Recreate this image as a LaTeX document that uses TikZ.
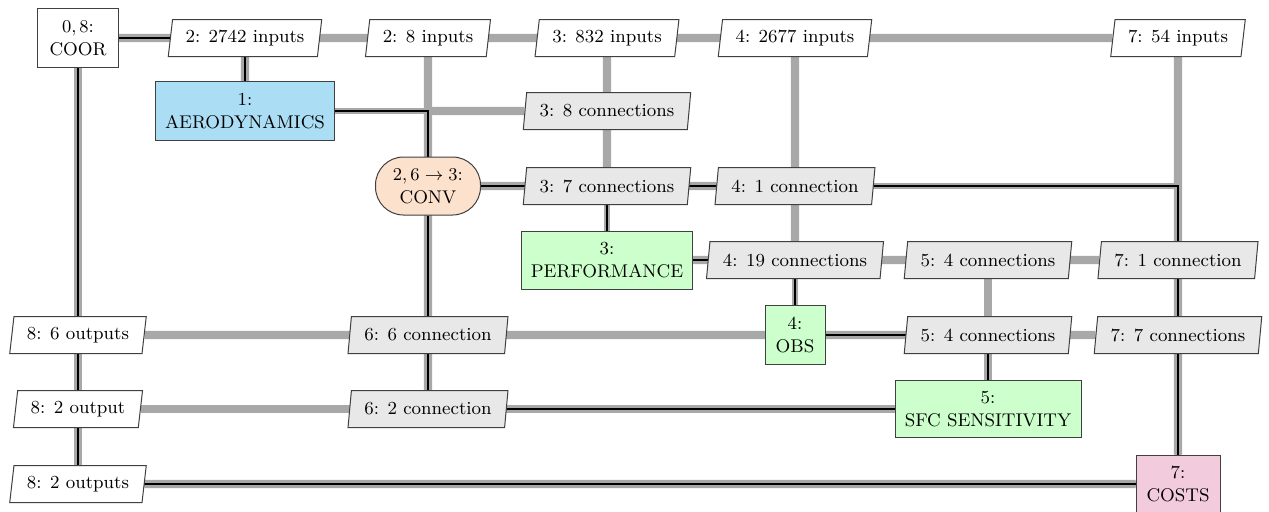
\documentclass[tikz,border=0pt]{standalone}
\usetikzlibrary{shapes.geometric,backgrounds}
\definecolor{aerofill}{RGB}{171,222,245}
\definecolor{convfill}{RGB}{252,225,205}
\definecolor{greenfill}{RGB}{204,255,204}
\definecolor{costfill}{RGB}{242,204,220}
\definecolor{connfill}{RGB}{232,232,232}
\definecolor{linegray}{RGB}{168,168,168}
\begin{document}
\begin{tikzpicture}[x=0.5pt,y=-0.5pt,
  every node/.style={font=\fontsize{9.2}{11.6}\selectfont},
  box/.style={draw=black!75, line width=0.5pt, align=center, inner sep=1pt},
  para/.style={trapezium, trapezium left angle=75, trapezium right angle=105,
     trapezium stretches body, draw=black!75, line width=0.5pt,
     minimum height=18.5pt, inner xsep=6.5pt, inner ysep=0pt, fill=white},
  conn/.style={para, fill=connfill},
  data/.style={draw=linegray, line width=4.2pt},
  proc/.style={draw=black, line width=1pt, preaction={draw=linegray, line width=2.6pt}}
]
\useasboundingbox (0,0) rectangle (1269,511);
% columns: 78, 245, 428, 607, 795, 988, 1178 ; rows: 38,111,186,260,335,409,484
\node[box, fill=white, minimum width=40.5pt, minimum height=29.5pt] (coor) at (78,38) {$0, 8$:\\COOR};
\node[box, fill=aerofill, minimum width=89.5pt, minimum height=29.5pt] (aero) at (245,111) {1:\\AERODYNAMICS};
\node[box, fill=convfill, rounded corners=14pt, minimum width=52.5pt, minimum height=29pt] (conv) at (428,186) {$2, 6 \rightarrow 3$:\\CONV};
\node[box, fill=greenfill, minimum width=85.5pt, minimum height=29pt] (perf) at (607,260) {3:\\PERFORMANCE};
\node[box, fill=greenfill, minimum width=30pt, minimum height=29.5pt] (obs) at (795,335) {4:\\OBS};
\node[box, fill=greenfill, minimum width=93pt, minimum height=28.5pt] (sfc) at (988,409) {5:\\SFC SENSITIVITY};
\node[box, fill=costfill, minimum width=42pt, minimum height=29pt] (costs) at (1178,484) {7:\\COSTS};

\node[para] (in2742) at (245,38) {2: 2742 inputs};
\node[para] (in8) at (428,38) {2: 8 inputs};
\node[para] (in832) at (607,38) {3: 832 inputs};
\node[para] (in2677) at (795,38) {4: 2677 inputs};
\node[para] (in54) at (1178,38) {7: 54 inputs};

\node[conn] (c38) at (607,111) {3: 8 connections};
\node[conn] (c37) at (607,186) {3: 7 connections};
\node[conn] (c41) at (795,186) {4: 1 connection};
\node[conn] (c419) at (795,260) {4: 19 connections};
\node[conn] (c54a) at (988,260) {5: 4 connections};
\node[conn] (c71) at (1178,260) {7: 1 connection};
\node[para] (o86) at (78,335) {8: 6 outputs};
\node[conn] (c66) at (428,335) {6: 6 connection};
\node[conn] (c54b) at (988,335) {5: 4 connections};
\node[conn] (c77) at (1178,335) {7: 7 connections};
\node[para] (o82) at (78,409) {8: 2 output};
\node[conn] (c62) at (428,409) {6: 2 connection};
\node[para] (o82s) at (78,484) {8: 2 outputs};

\coordinate (j21) at (428,111);

\begin{scope}[on background layer]
  % data lines
  \draw[data] (coor) -- (in54);
  \draw[data] (coor) -- (o82s);
  \draw[data] (in2742) -- (aero);
  \draw[data] (in8) -- (c62);
  \draw[data] (j21) -- (c38);
  \draw[data] (in832) -- (c37);
  \draw[data] (in2677) -- (c419);
  \draw[data] (conv) -- (c41);
  \draw[data] (perf) -- (c71);
  \draw[data] (c54a) -- (sfc);
  \draw[data] (in54) -- (costs);
  \draw[data] (o86) -- (c77);
  \draw[data] (o82) -- (sfc);
  \draw[data] (o82s) -- (costs);
  % process lines
  \draw[proc] (coor) -| (aero);
  \draw[proc] (aero) -| (conv);
  \draw[proc] (conv) -| (perf);
  \draw[proc] (conv) -| (costs);
  \draw[proc] (perf) -| (obs);
  \draw[proc] (obs) -| (sfc);
  \draw[proc] (sfc) -| (conv);
  \draw[proc] (costs) -| (coor);
\end{scope}
\end{tikzpicture}
\end{document}
